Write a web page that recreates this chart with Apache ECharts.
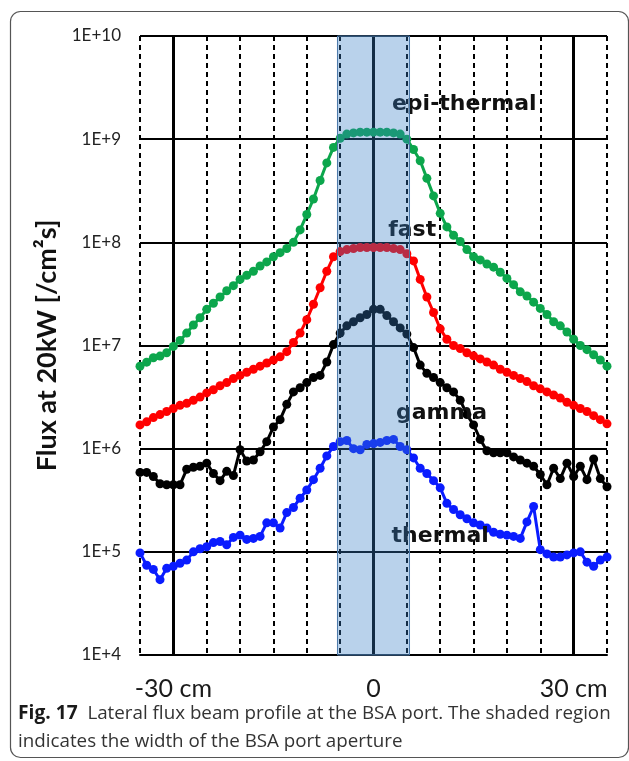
<!DOCTYPE html>
<html>
<head>
<meta charset="utf-8">
<script src="https://cdn.jsdelivr.net/npm/echarts@6/dist/echarts.min.js"></script>
<style>
  html, body { margin: 0; padding: 0; background: #fff; }
  #chart { width: 629px; height: 761px; }
</style>
</head>
<body>
<div id="chart"></div>
<script>
// lateral position, cm (one point per cm)
const positions = [
  -35, -34, -33, -32, -31, -30, -29, -28, -27, -26, -25, -24, -23, -22, -21, -20, -19, -18,
  -17, -16, -15, -14, -13, -12, -11, -10, -9, -8, -7, -6, -5, -4, -3, -2, -1,
  0, 1, 2, 3, 4, 5, 6, 7, 8, 9, 10, 11, 12, 13, 14, 15, 16, 17,
  18, 19, 20, 21, 22, 23, 24, 25, 26, 27, 28, 29, 30, 31, 32, 33, 34, 35
];

// flux at 20 kW [/cm2 s]
const epiThermal = [
  6.3e6, 6.9e6, 7.6e6, 7.9e6, 8.5e6, 9.8e6, 1.12e7, 1.32e7, 1.58e7, 1.86e7, 2.24e7, 2.57e7, 2.95e7, 3.39e7, 3.8e7, 4.37e7, 4.79e7, 5.25e7,
  5.89e7, 6.46e7, 7.24e7, 7.94e7, 8.71e7, 1.0e8, 1.32e8, 1.86e8, 2.63e8, 3.98e8, 5.89e8, 8.32e8, 1.02e9, 1.12e9, 1.15e9, 1.17e9, 1.17e9,
  1.17e9, 1.17e9, 1.17e9, 1.15e9, 1.12e9, 1.0e9, 7.94e8, 6.17e8, 4.17e8, 2.82e8, 1.91e8, 1.41e8, 1.17e8, 1.02e8, 8.51e7, 7.24e7, 6.76e7, 6.17e7,
  5.75e7, 5.13e7, 4.47e7, 3.89e7, 3.31e7, 3.02e7, 2.63e7, 2.29e7, 2.0e7, 1.7e7, 1.55e7, 1.35e7, 1.15e7, 1.0e7, 9.12e6, 8.13e6, 7.24e6, 6.31e6
];
const fast = [
  1.7e6, 1.82e6, 2.0e6, 2.14e6, 2.29e6, 2.45e6, 2.63e6, 2.75e6, 2.95e6, 3.16e6, 3.47e6, 3.72e6, 4.07e6, 4.37e6, 4.79e6, 5.13e6, 5.5e6, 5.89e6,
  6.31e6, 6.76e6, 7.24e6, 7.76e6, 8.71e6, 1.07e7, 1.32e7, 1.78e7, 2.51e7, 3.63e7, 5.25e7, 7.24e7, 8.13e7, 8.51e7, 8.71e7, 8.91e7, 8.91e7,
  8.91e7, 8.91e7, 8.91e7, 8.71e7, 8.51e7, 7.76e7, 6.61e7, 4.37e7, 2.95e7, 2.09e7, 1.45e7, 1.15e7, 1.0e7, 9.33e6, 8.51e6, 7.94e6, 7.41e6, 6.92e6,
  6.46e6, 5.89e6, 5.5e6, 5.13e6, 4.79e6, 4.47e6, 4.07e6, 3.8e6, 3.55e6, 3.31e6, 3.09e6, 2.82e6, 2.63e6, 2.45e6, 2.29e6, 2.09e6, 1.91e6, 1.74e6
];
const gamma = [
  5.89e5, 5.89e5, 5.37e5, 4.57e5, 4.47e5, 4.47e5, 4.47e5, 6.31e5, 6.61e5, 6.76e5, 7.24e5, 5.75e5, 4.9e5, 6.03e5, 5.5e5, 9.77e5, 7.59e5, 7.76e5,
  9.33e5, 1.17e6, 1.62e6, 1.91e6, 2.69e6, 3.55e6, 3.89e6, 4.37e6, 4.9e6, 5.13e6, 6.92e6, 1.02e7, 1.32e7, 1.55e7, 1.7e7, 1.86e7, 2.0e7,
  2.24e7, 2.24e7, 1.95e7, 1.7e7, 1.48e7, 1.29e7, 9.55e6, 6.46e6, 5.37e6, 4.9e6, 4.37e6, 3.89e6, 3.55e6, 2.95e6, 2.14e6, 1.7e6, 1.23e6, 9.55e5,
  9.12e5, 9.12e5, 9.12e5, 8.32e5, 7.76e5, 7.24e5, 6.76e5, 5.62e5, 4.47e5, 6.46e5, 5.13e5, 7.24e5, 5.37e5, 6.76e5, 5.01e5, 7.94e5, 5.13e5, 4.27e5
];
const thermal = [
  9.77e4, 7.41e4, 6.76e4, 5.37e4, 6.92e4, 7.24e4, 7.76e4, 8.32e4, 1.0e5, 1.07e5, 1.12e5, 1.23e5, 1.26e5, 1.17e5, 1.38e5, 1.45e5, 1.32e5, 1.35e5,
  1.41e5, 1.91e5, 1.91e5, 1.7e5, 2.4e5, 2.69e5, 3.31e5, 3.98e5, 5.01e5, 6.46e5, 8.51e5, 1.05e6, 1.17e6, 1.2e6, 1.0e6, 9.77e5, 1.1e6,
  1.12e6, 1.15e6, 1.2e6, 1.23e6, 1.05e6, 9.77e5, 8.13e5, 6.46e5, 5.75e5, 4.9e5, 4.17e5, 2.95e5, 2.57e5, 2.29e5, 2.09e5, 1.91e5, 1.82e5, 1.7e5,
  1.55e5, 1.48e5, 1.45e5, 1.41e5, 1.35e5, 1.95e5, 2.75e5, 1.05e5, 9.55e4, 8.91e4, 8.91e4, 9.33e4, 9.77e4, 1.0e5, 7.94e4, 7.24e4, 8.32e4, 8.91e4
];

// curve names written on the plot
const curveNames = ['epi-thermal', 'fast', 'gamma', 'thermal'];
const curveNameX = [13.6, 5.8, 10.2, 10.0];
const curveNameY = [2.2e9, 1.32e8, 2.2e6, 1.4e5];

// BSA port aperture, cm
const apertureFrom = -5.4;
const apertureTo = 5.4;
const solidLines = [-30, 0, 30];

const FONT = 'Lato';

const chart = echarts.init(document.getElementById('chart'));

const toPairs = (ys) => positions.map((x, i) => [x, ys[i]]);

const curve = (name, ys, color) => ({
  name,
  type: 'line',
  data: toPairs(ys),
  symbol: 'circle',
  symbolSize: 9,
  z: 3,
  lineStyle: { color, width: 3 },
  itemStyle: { color },
  animation: false,
});

chart.setOption({
  animation: false,
  title: {
    left: 18,
    top: 700,
    padding: 0,
    text: '{b|Fig. 17}  Lateral flux beam profile at the BSA port. The shaded region\nindicates the width of the BSA port aperture',
    textStyle: {
      fontFamily: 'Open Sans',
      fontSize: 18.8,
      fontWeight: 'normal',
      color: '#333',
      lineHeight: 28,
      rich: {
        b: { fontFamily: 'Open Sans', fontSize: 19.2, fontWeight: 'bold', color: '#1a1a1a', lineHeight: 28 },
      },
    },
  },
  graphic: [{
    type: 'rect',
    shape: { x: 10.5, y: 11.5, width: 618, height: 746, r: 10 },
    style: { fill: 'none', stroke: '#555', lineWidth: 1.2 },
    silent: true,
    z: -1,
  }],
  grid: { left: 140, right: 22, top: 36, bottom: 106 },
  xAxis: {
    type: 'value',
    min: -35,
    max: 35,
    interval: 5,
    axisLine: { show: true, lineStyle: { color: '#000', width: 2 } },
    axisTick: { show: false },
    axisLabel: {
      margin: 21,
      fontFamily: FONT,
      fontSize: 25,
      color: '#1a1a1a',
      formatter: (v) => (v === -30 ? '-30 cm' : v === 0 ? '0' : v === 30 ? '30 cm' : ''),
    },
    splitLine: { show: true, lineStyle: { color: '#000', width: 2, type: [5, 4] } },
  },
  yAxis: {
    type: 'log',
    logBase: 10,
    min: 1e4,
    max: 1e10,
    interval: 1,
    name: 'Flux at 20kW [/cm²s]',
    nameLocation: 'middle',
    nameGap: 74,
    nameTextStyle: { fontFamily: FONT, fontSize: 27, fontWeight: 'bold', color: '#111' },
    axisLine: { show: false },
    axisTick: { show: false },
    axisLabel: {
      margin: 19,
      fontFamily: FONT,
      fontSize: 17,
      color: '#222',
      formatter: (v) => '1E+' + Math.round(Math.log10(v)),
    },
    splitLine: { show: true, lineStyle: { color: '#000', width: 2 } },
    minorSplitLine: { show: false },
  },
  series: [
    {
      name: 'frame',
      type: 'line',
      data: [],
      silent: true,
      z: 1,
      markLine: {
        silent: true,
        symbol: 'none',
        z: 1,
        label: { show: false },
        lineStyle: { color: '#000', width: 3, type: 'solid' },
        data: solidLines.map((x) => ({ xAxis: x })),
      },
    },
    curve('epi-thermal', epiThermal, '#0ca64c'),
    curve('fast', fast, '#ff0000'),
    curve('gamma', gamma, '#000000'),
    curve('thermal', thermal, '#0a1cff'),
    {
      name: 'labels',
      type: 'scatter',
      z: 4,
      symbolSize: 1,
      itemStyle: { opacity: 0 },
      data: curveNames.map((n, i) => ({ name: n, value: [curveNameX[i], curveNameY[i]] })),
      label: {
        show: true,
        position: 'inside',
        formatter: '{b}',
        fontFamily: 'DejaVu Sans',
        fontSize: 22,
        fontWeight: 'bold',
        color: '#111',
        opacity: 1,
        textBorderWidth: 0,
      },
      emphasis: { disabled: true },
      animation: false,
    },
    {
      name: 'aperture',
      type: 'line',
      data: [],
      silent: true,
      z: 10,
      markArea: {
        silent: true,
        z: 10,
        itemStyle: {
          color: 'rgba(55,126,198,0.35)',
          borderColor: '#4a78a8',
          borderWidth: 1,
        },
        data: [[{ xAxis: apertureFrom, yAxis: 1e10 }, { xAxis: apertureTo, yAxis: 1e4 }]],
      },
    },
  ],
});
</script>
</body>
</html>
